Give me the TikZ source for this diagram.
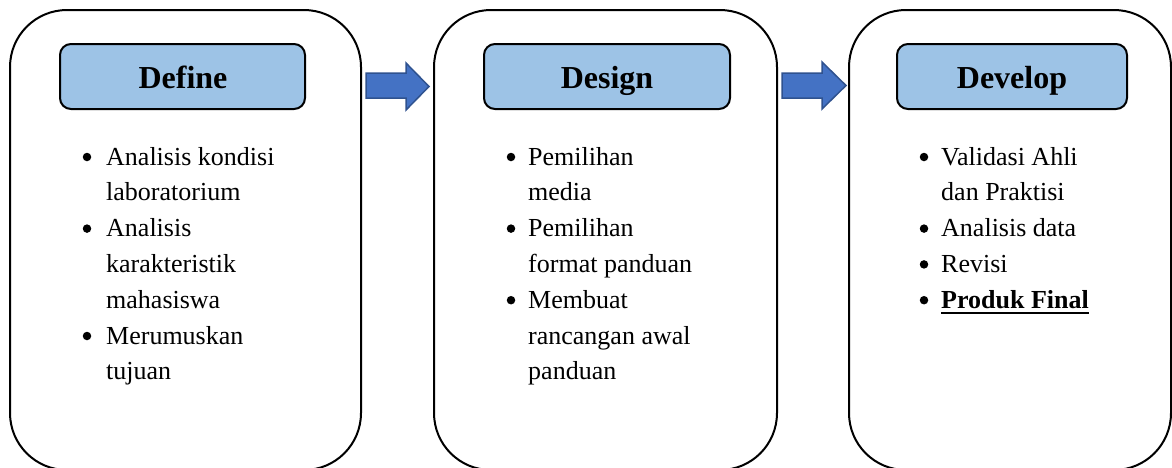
\documentclass[tikz,border=0pt]{standalone}
\usepackage{fontspec}
\setmainfont{Liberation Serif}
\definecolor{hdrfill}{HTML}{9DC3E6}
\definecolor{arrfill}{HTML}{4472C4}
\definecolor{arrdraw}{HTML}{2F528F}
\begin{document}
\begin{tikzpicture}[x=1pt,y=-1pt,
  phase/.style={draw=black,line width=2pt,rounded corners=57pt},
  hdr/.style={draw=black,line width=2pt,fill=hdrfill,rounded corners=11pt},
  hdrtext/.style={anchor=base,inner sep=0pt,font=\fontsize{32}{38}\selectfont\bfseries},
  item/.style={anchor=base west,inner sep=0pt,font=\fontsize{26}{36}\selectfont},
  bul/.style={circle,fill=black,inner sep=0pt,minimum size=8.5pt,yshift=8pt},
  blockarrow/.style={fill=arrfill,draw=arrdraw,line width=1.5pt,line join=miter}]
\useasboundingbox (0,0) rectangle (1172,467);
% phase boxes
\draw[phase] (10,10) rectangle (361,470);
\draw[phase] (434,10) rectangle (777,470);
\draw[phase] (849,10) rectangle (1171,470);
% headers
\draw[hdr] (60,44) rectangle (305,109);
\draw[hdr] (484,44) rectangle (730,109);
\draw[hdr] (897,44) rectangle (1127,109);
\node[hdrtext] (h1) at (183,88) {Define};
\node[hdrtext] (h2) at (607,88) {Design};
\node[hdrtext] (h3) at (1012,88) {Develop};
% arrows
\draw[blockarrow] (366,73) -- (406,73) -- (406,63) -- (429,86.5) -- (406,110) -- (406,98) -- (366,98) -- cycle;
\draw[blockarrow] (782,73) -- (822,73) -- (822,62) -- (846,85.5) -- (822,109) -- (822,98) -- (782,98) -- cycle;
% box 1 items
\node[bul] (b11) at (87,165) {};
\node[item] (t11) at (106,165) {Analisis kondisi};
\node[item] (t12) at (106,200.8) {laboratorium};
\node[bul] (b12) at (87,236.6) {};
\node[item] (t13) at (106,236.6) {Analisis};
\node[item] (t14) at (106,272.4) {karakteristik};
\node[item] (t15) at (106,308.2) {mahasiswa};
\node[bul] (b13) at (87,344) {};
\node[item] (t16) at (106,344) {Merumuskan};
\node[item] (t17) at (106,379.8) {tujuan};
% box 2 items
\node[bul] (b21) at (511,165) {};
\node[item] (t21) at (528,165) {Pemilihan};
\node[item] (t22) at (528,200.8) {media};
\node[bul] (b22) at (511,236.6) {};
\node[item] (t23) at (528,236.6) {Pemilihan};
\node[item] (t24) at (528,272.4) {format panduan};
\node[bul] (b23) at (511,308.2) {};
\node[item] (t25) at (528,308.2) {Membuat};
\node[item] (t26) at (528,344) {rancangan awal};
\node[item] (t27) at (528,379.8) {panduan};
% box 3 items
\node[bul] (b31) at (924,165) {};
\node[item] (t31) at (941,165) {Validasi Ahli};
\node[item] (t32) at (941,200.8) {dan Praktisi};
\node[bul] (b32) at (924,236.6) {};
\node[item] (t33) at (941,236.6) {Analisis data};
\node[bul] (b33) at (924,272.4) {};
\node[item] (t34) at (941,272.4) {Revisi};
\node[bul] (b34) at (924,308.2) {};
\node[item,font=\fontsize{26}{36}\selectfont\bfseries] (t35) at (941,308.2) {Produk Final};
\draw[line width=1.8pt] ([yshift=-5pt]t35.base west) -- ([yshift=-5pt]t35.base east);
\end{tikzpicture}
\end{document}
